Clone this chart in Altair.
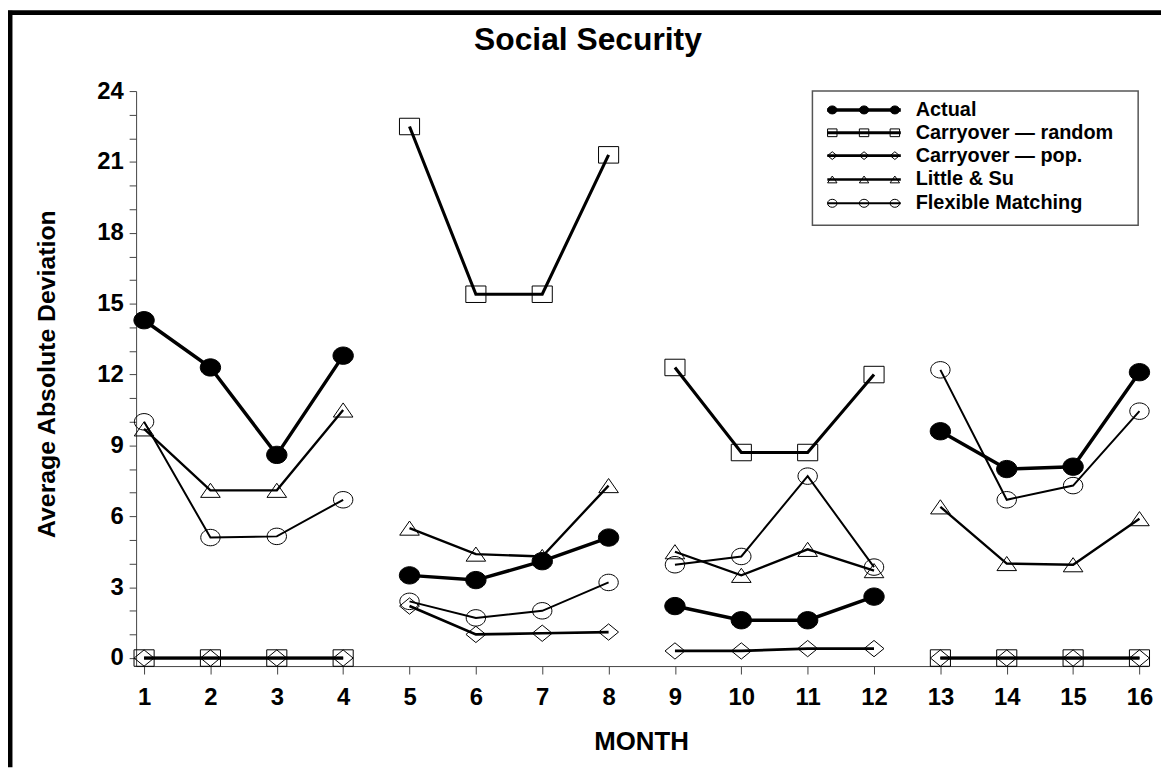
import altair as alt
import pandas as pd

# ---------------- data ----------------
months = list(range(1, 17))
series_names = ["Actual", "Carryover — random", "Carryover — pop.", "Little & Su", "Flexible Matching"]

actual       = [14.3, 12.3, 8.6, 12.8, 3.5, 3.3, 4.1, 5.1, 2.2, 1.6, 1.6, 2.6, 9.6, 8.0, 8.1, 12.1]
carry_random = [0, 0, 0, 0, 22.5, 15.4, 15.4, 21.3, 12.3, 8.7, 8.7, 12.0, 0, 0, 0, 0]
carry_pop    = [0, 0, 0, 0, 2.2, 1.0, 1.05, 1.1, 0.3, 0.3, 0.4, 0.4, 0, 0, 0, 0]
little_su    = [9.7, 7.1, 7.1, 10.5, 5.5, 4.4, 4.3, 7.3, 4.5, 3.5, 4.6, 3.7, 6.4, 4.0, 3.95, 5.9]
flexible     = [10.0, 5.1, 5.15, 6.7, 2.4, 1.7, 2.0, 3.2, 3.95, 4.3, 7.7, 3.85, 12.2, 6.7, 7.3, 10.45]

y_ticks = list(range(0, 25))

values_by_series = [actual, carry_random, carry_pop, little_su, flexible]
rows = []
for name, vals in zip(series_names, values_by_series):
    for m, v in zip(months, vals):
        block = (m - 1) // 4
        rows.append({"month": m, "value": v, "series": name, "seg": f"{name}-{block}"})
df = pd.DataFrame(rows)

# ---------------- styling ----------------
FONT = "Liberation Sans"
W, H = 1019, 579
PAD = {"left": 129, "top": 81, "right": 13, "bottom": 102}

ell = "M-1,0A1,0.85,0,1,1,1,0A1,0.85,0,1,1,-1,0Z"
sq = "M-1,-0.82L1,-0.82L1,0.82L-1,0.82Z"
dia = "M0,-0.82L1,0L0,0.82L-1,0Z"
tri = "M0,-0.72L1,0.72L-1,0.72Z"

shape_scale = alt.Scale(domain=series_names, range=[ell, sq, dia, tri, ell])
fill_scale = alt.Scale(domain=series_names,
                       range=["black", "transparent", "transparent", "transparent", "transparent"])
width_scale = alt.Scale(domain=series_names, range=[3.5, 2, 2, 2, 2])

x_enc = alt.X("month:Q",
              scale=alt.Scale(domain=[0.88, 16.13], nice=False, zero=False),
              axis=alt.Axis(values=months, tickCount=len(months), title=None, grid=False, tickSize=8,
                            labelFontSize=24, labelFont=FONT, labelFontWeight="bold",
                            labelColor="black", labelPadding=12, domainColor="#444",
                            tickColor="#444", labelOverlap=False, format="d"))
y_enc = alt.Y("value:Q",
              scale=alt.Scale(domain=[-0.34, 24], nice=False, zero=False),
              axis=alt.Axis(values=y_ticks, tickCount=len(y_ticks), title=None, grid=False, tickSize=7,
                            labelExpr="datum.value % 3 === 0 ? datum.label : ''",
                            labelFontSize=24, labelFont=FONT, labelFontWeight="bold",
                            labelColor="black", labelPadding=6, domainColor="#444",
                            tickColor="#444", labelOverlap=False, format="d"))

base = alt.Chart(df)

lines = base.mark_line(color="black").encode(
    x=x_enc, y=y_enc, detail="seg:N",
    strokeWidth=alt.StrokeWidth("series:N", scale=width_scale, legend=None),
)

points = base.mark_point(color="black", opacity=1, strokeWidth=1).encode(
    x="month:Q", y="value:Q",
    shape=alt.Shape("series:N", scale=shape_scale, legend=None),
    fill=alt.Fill("series:N", scale=fill_scale, legend=None),
    size=alt.Size("series:N", scale=alt.Scale(domain=series_names, range=[420, 380, 370, 380, 400]), legend=None),
)

# ---------------- legend ----------------
leg_y = [19, 42, 65, 89, 113]
leg_df = pd.DataFrame({"series": series_names, "ly": leg_y})
leg_pts = pd.DataFrame([{"series": s, "ly": y, "lx": x}
                        for s, y in zip(series_names, leg_y) for x in (701, 733, 764)])

leg_box = alt.Chart(pd.DataFrame({"a": [0]})).mark_rect(
    fill="white", stroke="#555", strokeWidth=1.5).encode(
    x=alt.value(681), x2=alt.value(1009), y=alt.value(0), y2=alt.value(135))

leg_lines = alt.Chart(leg_df).mark_rule(color="black").encode(
    x=alt.value(696), x2=alt.value(770),
    y=alt.Y("ly:Q", scale=None, axis=None),
    strokeWidth=alt.StrokeWidth("series:N", scale=width_scale, legend=None),
)
leg_marks = alt.Chart(leg_pts).mark_point(color="black", opacity=1, strokeWidth=1).encode(
    x=alt.X("lx:Q", scale=None, axis=None),
    y=alt.Y("ly:Q", scale=None, axis=None),
    shape=alt.Shape("series:N", scale=shape_scale, legend=None),
    fill=alt.Fill("series:N", scale=fill_scale, legend=None),
    size=alt.value(90),
)
leg_text = alt.Chart(leg_df).mark_text(
    align="left", baseline="middle", font=FONT, fontWeight="bold", fontSize=20, color="black").encode(
    x=alt.value(785), y=alt.Y("ly:Q", scale=None, axis=None), text="series:N")

# ---------------- titles & frame ----------------
one = pd.DataFrame({"a": [0]})
title = alt.Chart(one).mark_text(font=FONT, fontWeight="bold", fontSize=32, color="black",
                                 align="center", baseline="middle").encode(
    x=alt.value(455), y=alt.value(-51), text=alt.value("Social Security"))
ytitle = alt.Chart(one).mark_text(font=FONT, fontWeight="bold", fontSize=25, color="black",
                                  align="center", baseline="middle", angle=270).encode(
    x=alt.value(-90), y=alt.value(285), text=alt.value("Average Absolute Deviation"))
xtitle = alt.Chart(one).mark_text(font=FONT, fontWeight="bold", fontSize=26, color="black",
                                  align="center", baseline="middle").encode(
    x=alt.value(509), y=alt.value(H + 77), text=alt.value("MONTH"))
frame_left = alt.Chart(one).mark_rule(color="black", strokeWidth=5).encode(
    x=alt.value(-127), y=alt.value(-81), y2=alt.value(H + PAD["bottom"]))
frame_top = alt.Chart(one).mark_rule(color="black", strokeWidth=5).encode(
    x=alt.value(-129), x2=alt.value(W + PAD["right"]), y=alt.value(-79))

chart = alt.layer(
    lines, points, leg_box, leg_lines, leg_marks, leg_text,
    title, ytitle, xtitle, frame_left, frame_top
).properties(
    width=W, height=H,
    autosize=alt.AutoSizeParams(type="none"),
    padding=PAD,
    background="white",
).configure_view(stroke=None)

chart.save("out.html", embed_options={"renderer": "svg", "actions": False})
